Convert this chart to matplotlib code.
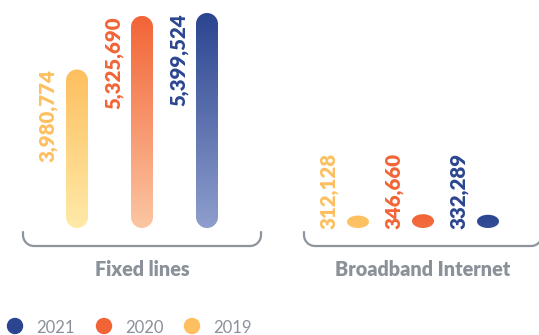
import numpy as np
import matplotlib
matplotlib.use("Agg")
import matplotlib.pyplot as plt
from matplotlib.patches import PathPatch, Circle
from matplotlib.path import Path
from matplotlib.colors import to_rgb
from matplotlib.font_manager import FontProperties

# ---------------- data ----------------
groups = ["Fixed lines", "Broadband Internet"]
years = ["2019", "2020", "2021"]
values_2019 = [3980774, 312128]
values_2020 = [5325690, 346660]
values_2021 = [5399524, 332289]
series = [values_2019, values_2020, values_2021]
labels_2019 = ["3,980,774", "312,128"]
labels_2020 = ["5,325,690", "346,660"]
labels_2021 = ["5,399,524", "332,289"]
series_labels = [labels_2019, labels_2020, labels_2021]
legend_years = ["2021", "2020", "2019"]

# ---------------- style ----------------
top_colors = {"2019": "#FDBF5F", "2020": "#F26436", "2021": "#2B4590"}
bottom_colors = {"2019": "#FFEAA8", "2020": "#FCC6A3", "2021": "#8E9ECD"}
gray = "#8A9199"
fp_val = FontProperties(family=["Lato", "DejaVu Sans"], weight="heavy", size=14.8)
fp_grp = FontProperties(family=["Lato", "DejaVu Sans"], weight="heavy", size=14.2)
fp_leg = FontProperties(family=["Lato", "DejaVu Sans"], weight="normal", size=12)

W, H = 539, 335
DPI = 100
BASE_PX = 228       # baseline y pixel
TOP_PX = 13         # top pixel of max bar
G0_PX = 142         # center of first group
GROUP_PX = 281      # group spacing in px
OFF_PX = 65         # spacing between bars in px
BAR_W_PX = 22

fig = plt.figure(figsize=(W / DPI, H / DPI), dpi=DPI)
ax = fig.add_axes([0, 0, 1, 1])
ax.axis("off")

vmax = max(max(s) for s in series)
s = (BASE_PX - TOP_PX) / vmax  # px per value
ax.set_xlim(-G0_PX / GROUP_PX, (W - G0_PX) / GROUP_PX)
ax.set_ylim(-(H - BASE_PX) / s, BASE_PX / s)

px_x = 1.0 / GROUP_PX   # data units per px (x)
px_y = 1.0 / s          # data units per px (y)


def capsule(xc, h):
    """Stadium / ellipse shape in data coords, from value h."""
    rx = BAR_W_PX / 2 * px_x
    h_px = h * s
    ry_px = min(BAR_W_PX / 2, h_px / 2)
    ry = ry_px * px_y
    t_top = np.linspace(0, np.pi, 40)
    t_bot = np.linspace(np.pi, 2 * np.pi, 40)
    top = np.column_stack([xc + rx * np.cos(t_top), h - ry + ry * np.sin(t_top)])
    bot = np.column_stack([xc + rx * np.cos(t_bot), ry + ry * np.sin(t_bot)])
    verts = np.vstack([top, bot, top[:1]])
    codes = [Path.MOVETO] + [Path.LINETO] * (len(verts) - 2) + [Path.CLOSEPOLY]
    return Path(verts, codes), rx


for si, (yr, vals, labs) in enumerate(zip(years, series, series_labels)):
    for gi, v in enumerate(vals):
        xc = gi + (si - 1) * OFF_PX / GROUP_PX
        path, rx = capsule(xc, v)
        patch = PathPatch(path, facecolor="none", edgecolor="none")
        ax.add_patch(patch)
        c_top = np.array(to_rgb(top_colors[yr]))
        c_bot = np.array(to_rgb(bottom_colors[yr]))
        frac = min(1.0, v / vmax * 1.6)
        c_bot = c_top + (c_bot - c_top) * frac
        n = 256
        t = np.linspace(0, 1, n)[:, None]  # 0 bottom -> 1 top
        grad = c_bot[None, :] * (1 - t) + c_top[None, :] * t
        img = grad[:, None, :]
        im = ax.imshow(img, extent=[xc - rx, xc + rx, 0, v], origin="lower",
                       aspect="auto", interpolation="bilinear", zorder=2)
        im.set_clip_path(patch)
        # value label
        if v * s > 100:
            ax.annotate(labs[gi], xy=(xc - rx, v), xytext=(-8, 0),
                        textcoords="offset pixels", rotation=90,
                        ha="right", va="top", fontproperties=fp_val,
                        color=top_colors[yr])
        else:
            ax.annotate(labs[gi], xy=(xc - rx, 0), xytext=(-8, -1),
                        textcoords="offset pixels", rotation=90,
                        ha="right", va="bottom", fontproperties=fp_val,
                        color=top_colors[yr])

ax.set_xlim(-G0_PX / GROUP_PX, (W - G0_PX) / GROUP_PX)
ax.set_ylim(-(H - BASE_PX) / s, BASE_PX / s)

# ---------------- overlay in pixel coords ----------------
ov = fig.add_axes([0, 0, 1, 1])
ov.set_xlim(0, W)
ov.set_ylim(H, 0)
ov.axis("off")
ov.patch.set_alpha(0)

HALF = 119
R = 11
for gi, g in enumerate(groups):
    cx = G0_PX + gi * GROUP_PX
    xl, xr = cx - HALF, cx + HALF
    ytop, ybot = 232, 246
    a1 = np.linspace(np.pi, np.pi / 2, 20)
    a2 = np.linspace(np.pi / 2, 0, 20)
    left_arc = np.column_stack([xl + R + R * np.cos(a1), ybot - R + R * np.sin(a1)])
    right_arc = np.column_stack([xr - R + R * np.cos(a2), ybot - R + R * np.sin(a2)])
    pts = np.vstack([[xl, ytop], left_arc, right_arc, [xr, ytop]])
    ov.plot(pts[:, 0], pts[:, 1], color="#8E949B", lw=1.6, solid_capstyle="round",
            clip_on=False)
    ov.text(cx, 276.5, g, ha="center", va="baseline", fontproperties=fp_grp,
            color=gray)

leg_x = [15, 104, 192]
for lx, yr in zip(leg_x, legend_years):
    ov.add_patch(Circle((lx, 326), 7.5, color=top_colors[yr], clip_on=False))
    ov.text(lx + 21, 333, yr, ha="left", va="baseline", fontproperties=fp_leg,
            color=gray)

fig.savefig("out.png", dpi=DPI)
